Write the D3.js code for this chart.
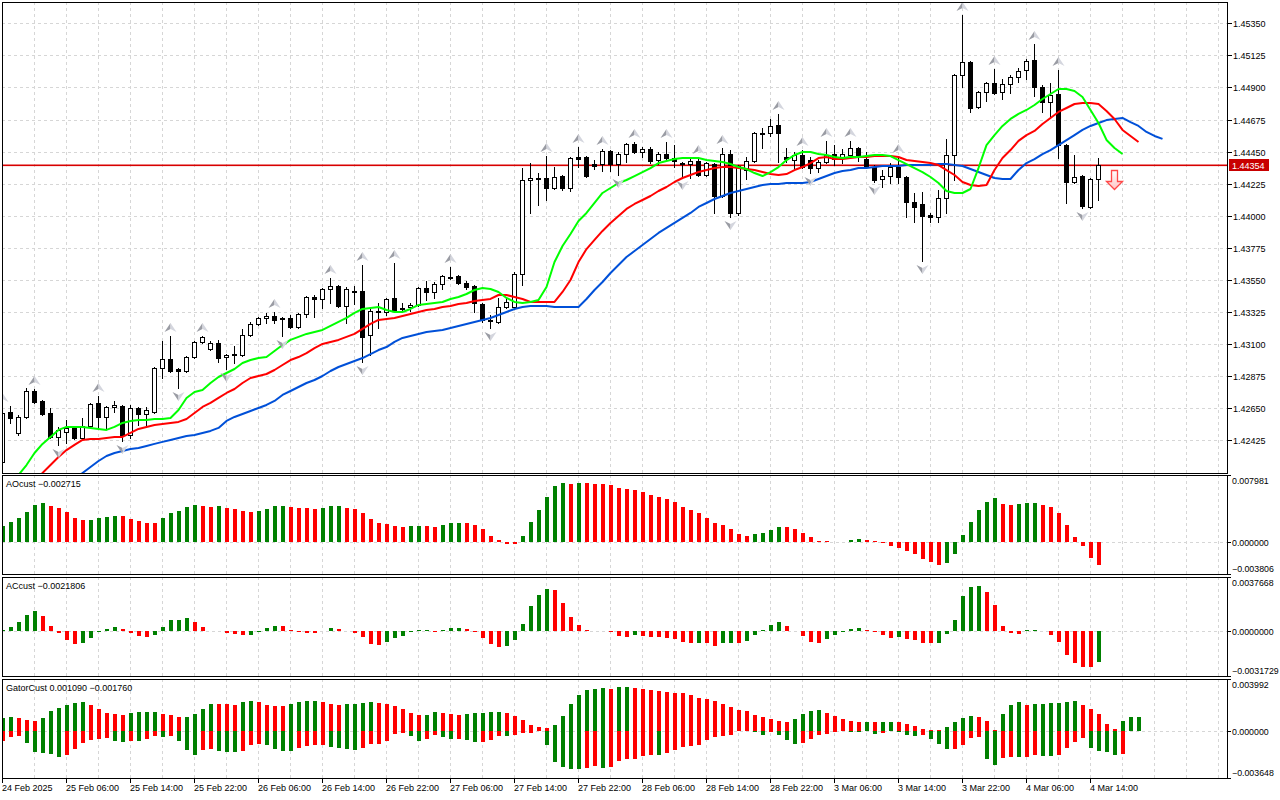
<!DOCTYPE html>
<html><head><meta charset="utf-8">
<script src="https://cdn.jsdelivr.net/npm/d3@7"></script>
<style>
body{margin:0;background:#fff}
svg{display:block}
text{font-family:"Liberation Sans",Arial,sans-serif;font-size:9px;fill:#000}
</style>
</head><body>
<svg id="c" width="1280" height="800"></svg>
<script>
// ---------- DATA ----------
const timeLabels = ["24 Feb 2025","25 Feb 06:00","25 Feb 14:00","25 Feb 22:00","26 Feb 06:00","26 Feb 14:00","26 Feb 22:00","27 Feb 06:00","27 Feb 14:00","27 Feb 22:00","28 Feb 06:00","28 Feb 14:00","28 Feb 22:00","3 Mar 06:00","3 Mar 14:00","3 Mar 22:00","4 Mar 06:00","4 Mar 14:00"];
const timeLabelBars = [0,8,16,24,32,40,48,56,64,72,80,88,96,104,112,120,128,136];
const priceTicks = [1.42425,1.42650,1.42875,1.43100,1.43325,1.43550,1.43775,1.44000,1.44225,1.44450,1.44675,1.44900,1.45125,1.45350];
const lastPrice = 1.44354;

const open = [1.42274,1.42625,1.42478,1.42590,1.42772,1.42702,1.42618,1.42450,1.42485,1.42513,
1.42443,1.42527,1.42688,1.42590,1.42660,1.42667,1.42464,1.42653,1.42611,1.42625,
1.42933,1.42996,1.42926,1.42912,1.43010,1.43116,1.43066,1.43109,1.43010,1.43024,
1.43024,1.43165,1.43242,1.43284,1.43298,1.43284,1.43284,1.43221,1.43312,1.43431,
1.43417,1.43487,1.43508,1.43368,1.43473,1.43473,1.43165,1.43326,1.43326,1.43424,
1.43354,1.43361,1.43375,1.43494,1.43466,1.43522,1.43564,1.43578,1.43529,1.43508,
1.43382,1.43270,1.43256,1.43361,1.43361,1.43592,1.44251,1.44258,1.44265,1.44195,
1.44279,1.44195,1.44412,1.44412,1.44363,1.44363,1.44454,1.44363,1.44433,1.44504,
1.44447,1.44468,1.44391,1.44433,1.44405,1.44370,1.44363,1.44384,1.44286,1.44363,
1.44139,1.44433,1.44020,1.44321,1.44384,1.44574,1.44581,1.44637,1.44412,1.44391,
1.44426,1.44391,1.44335,1.44377,1.44433,1.44412,1.44426,1.44475,1.44398,1.44342,
1.44258,1.44279,1.44342,1.44272,1.44097,1.44083,1.44006,1.43992,1.44125,1.44426,
1.44987,1.45078,1.44763,1.44868,1.44931,1.44868,1.44924,1.44973,1.45022,1.45092,
1.44903,1.44798,1.44854,1.44496,1.44237,1.44279,1.44062,1.44258];
const high = [1.42667,1.42667,1.42604,1.42793,1.42786,1.42709,1.42653,1.42520,1.42569,1.42520,
1.42583,1.42688,1.42737,1.42667,1.42702,1.42674,1.42674,1.42660,1.42660,1.42940,
1.43123,1.43158,1.42933,1.43017,1.43123,1.43158,1.43123,1.43130,1.43031,1.43087,
1.43207,1.43256,1.43291,1.43319,1.43326,1.43291,1.43305,1.43319,1.43438,1.43445,
1.43494,1.43564,1.43515,1.43501,1.43508,1.43655,1.43347,1.43389,1.43424,1.43669,
1.43389,1.43389,1.43501,1.43543,1.43536,1.43585,1.43641,1.43585,1.43543,1.43515,
1.43389,1.43305,1.43424,1.43424,1.43606,1.44335,1.44370,1.44300,1.44419,1.44342,
1.44286,1.44412,1.44482,1.44419,1.44391,1.44468,1.44461,1.44447,1.44511,1.44518,
1.44482,1.44482,1.44447,1.44518,1.44496,1.44377,1.44405,1.44405,1.44377,1.44370,
1.44475,1.44461,1.44356,1.44412,1.44588,1.44616,1.44679,1.44714,1.44475,1.44447,
1.44461,1.44412,1.44391,1.44525,1.44496,1.44468,1.44525,1.44482,1.44447,1.44356,
1.44321,1.44370,1.44412,1.44279,1.44160,1.44167,1.44020,1.44181,1.44539,1.44994,
1.45408,1.45085,1.44875,1.44938,1.45029,1.44959,1.44987,1.45036,1.45099,1.45205,
1.44917,1.44931,1.45022,1.44504,1.44426,1.44286,1.44265,1.44405];
const low = [1.42253,1.42548,1.42464,1.42583,1.42688,1.42604,1.42443,1.42394,1.42408,1.42436,
1.42436,1.42520,1.42520,1.42513,1.42625,1.42422,1.42443,1.42534,1.42520,1.42618,
1.42863,1.42905,1.42793,1.42905,1.43003,1.43109,1.43059,1.42975,1.42926,1.42968,
1.43017,1.43158,1.43235,1.43249,1.43249,1.43158,1.43214,1.43214,1.43291,1.43291,
1.43354,1.43389,1.43361,1.43249,1.43382,1.42975,1.43024,1.43214,1.43305,1.43326,
1.43326,1.43333,1.43368,1.43410,1.43424,1.43487,1.43557,1.43522,1.43487,1.43326,
1.43256,1.43214,1.43249,1.43354,1.43354,1.43515,1.44020,1.44076,1.44111,1.44188,
1.44181,1.44174,1.44342,1.44272,1.44328,1.44314,1.44314,1.44286,1.44377,1.44440,
1.44412,1.44370,1.44363,1.44398,1.44342,1.44272,1.44265,1.44279,1.44279,1.44020,
1.44132,1.43992,1.44006,1.44258,1.44377,1.44475,1.44560,1.44377,1.44377,1.44321,
1.44335,1.44300,1.44307,1.44370,1.44356,1.44370,1.44419,1.44384,1.44335,1.44237,
1.44202,1.44230,1.44230,1.43992,1.43957,1.43683,1.43957,1.43957,1.44020,1.44251,
1.44903,1.44728,1.44756,1.44805,1.44854,1.44819,1.44861,1.44938,1.44959,1.44840,
1.44728,1.44693,1.44405,1.44090,1.44230,1.44055,1.44055,1.44111];
const close = [1.42618,1.42583,1.42590,1.42772,1.42695,1.42611,1.42450,1.42499,1.42513,1.42443,
1.42527,1.42681,1.42590,1.42660,1.42674,1.42464,1.42653,1.42611,1.42639,1.42933,
1.42996,1.42912,1.42912,1.43010,1.43116,1.43151,1.43109,1.43003,1.43024,1.43031,
1.43165,1.43242,1.43284,1.43298,1.43270,1.43277,1.43221,1.43312,1.43431,1.43417,
1.43487,1.43508,1.43368,1.43487,1.43466,1.43151,1.43333,1.43333,1.43417,1.43333,
1.43347,1.43375,1.43494,1.43466,1.43522,1.43578,1.43571,1.43529,1.43501,1.43389,
1.43270,1.43263,1.43361,1.43396,1.43592,1.44251,1.44265,1.44265,1.44195,1.44272,
1.44195,1.44405,1.44398,1.44279,1.44349,1.44454,1.44363,1.44433,1.44504,1.44447,
1.44468,1.44384,1.44433,1.44405,1.44384,1.44363,1.44384,1.44286,1.44370,1.44139,
1.44433,1.44020,1.44349,1.44384,1.44581,1.44581,1.44630,1.44581,1.44398,1.44426,
1.44342,1.44335,1.44377,1.44426,1.44398,1.44433,1.44475,1.44412,1.44342,1.44251,
1.44279,1.44342,1.44272,1.44097,1.44062,1.43999,1.43992,1.44125,1.44426,1.44987,
1.45078,1.44756,1.44868,1.44931,1.44861,1.44924,1.44973,1.45015,1.45085,1.44903,
1.44798,1.44847,1.44496,1.44237,1.44272,1.44069,1.44258,1.44354];

const upFractals = [0,4,12,21,25,34,41,45,49,56,68,72,75,79,83,87,90,97,100,103,106,112,120,124,129,132];
const downFractals = [7,15,22,28,35,45,61,77,85,91,101,109,115,135];
const sellSignalBar = 139, sellSignalPrice = 1.44321;

// Alligator (already shifted forward)
const lipsStart = 2;
const lips = [1.42183,1.42253,1.42337,1.42401,1.42450,1.42499,1.42520,1.42520,1.42520,1.42513,
1.42506,1.42499,1.42520,1.42548,1.42562,1.42569,1.42569,1.42576,1.42576,1.42583,
1.42639,1.42723,1.42765,1.42779,1.42828,1.42870,1.42898,1.42926,1.42968,1.42989,
1.43003,1.43010,1.43052,1.43094,1.43130,1.43151,1.43172,1.43186,1.43200,1.43228,
1.43256,1.43284,1.43319,1.43347,1.43354,1.43361,1.43340,1.43326,1.43326,1.43347,
1.43375,1.43382,1.43389,1.43396,1.43417,1.43431,1.43452,1.43480,1.43494,1.43487,
1.43466,1.43424,1.43396,1.43389,1.43396,1.43410,1.43501,1.43676,1.43788,1.43873,
1.43964,1.44020,1.44090,1.44160,1.44195,1.44230,1.44251,1.44279,1.44307,1.44335,
1.44370,1.44384,1.44398,1.44405,1.44405,1.44405,1.44391,1.44384,1.44377,1.44363,
1.44342,1.44328,1.44300,1.44279,1.44307,1.44342,1.44391,1.44426,1.44447,1.44447,
1.44433,1.44426,1.44412,1.44405,1.44412,1.44412,1.44419,1.44426,1.44426,1.44419,
1.44391,1.44363,1.44335,1.44307,1.44272,1.44230,1.44174,1.44160,1.44160,1.44188,
1.44335,1.44496,1.44566,1.44630,1.44679,1.44714,1.44742,1.44777,1.44819,1.44854,
1.44889,1.44889,1.44875,1.44833,1.44742,1.44651,1.44532,1.44475,1.44433];
const teethStart = 4;
const teeth = [1.42148,1.42197,1.42253,1.42309,1.42358,1.42394,1.42429,1.42436,1.42436,1.42443,
1.42450,1.42450,1.42478,1.42506,1.42520,1.42534,1.42541,1.42548,1.42555,1.42576,
1.42618,1.42660,1.42688,1.42723,1.42758,1.42786,1.42828,1.42863,1.42877,1.42891,
1.42919,1.42954,1.42989,1.43010,1.43038,1.43073,1.43102,1.43116,1.43130,1.43151,
1.43172,1.43207,1.43242,1.43270,1.43277,1.43284,1.43298,1.43312,1.43326,1.43340,
1.43347,1.43361,1.43368,1.43382,1.43389,1.43403,1.43410,1.43417,1.43445,1.43445,
1.43431,1.43417,1.43396,1.43396,1.43396,1.43396,1.43466,1.43550,1.43676,1.43767,
1.43831,1.43894,1.43950,1.43999,1.44048,1.44083,1.44111,1.44139,1.44174,1.44202,
1.44237,1.44265,1.44286,1.44307,1.44321,1.44335,1.44342,1.44342,1.44335,1.44328,
1.44321,1.44307,1.44293,1.44286,1.44293,1.44321,1.44342,1.44370,1.44405,1.44412,
1.44398,1.44398,1.44405,1.44412,1.44412,1.44419,1.44419,1.44419,1.44412,1.44391,
1.44384,1.44377,1.44370,1.44356,1.44321,1.44286,1.44237,1.44216,1.44209,1.44216,
1.44321,1.44405,1.44461,1.44525,1.44566,1.44595,1.44644,1.44686,1.44728,1.44756,
1.44784,1.44791,1.44791,1.44784,1.44735,1.44679,1.44602,1.44560,1.44518];
const jawStart = 9;
const jaw = [1.42162,1.42197,1.42239,1.42281,1.42316,1.42337,1.42351,1.42365,1.42372,1.42386,
1.42401,1.42415,1.42429,1.42443,1.42457,1.42464,1.42478,1.42492,1.42513,1.42562,
1.42590,1.42611,1.42632,1.42653,1.42674,1.42702,1.42744,1.42772,1.42800,1.42828,
1.42849,1.42877,1.42912,1.42940,1.42961,1.42982,1.43003,1.43031,1.43059,1.43080,
1.43116,1.43144,1.43158,1.43172,1.43186,1.43193,1.43200,1.43214,1.43228,1.43242,
1.43256,1.43270,1.43284,1.43305,1.43326,1.43347,1.43361,1.43368,1.43368,1.43368,
1.43361,1.43361,1.43361,1.43361,1.43417,1.43480,1.43536,1.43599,1.43655,1.43711,
1.43753,1.43795,1.43838,1.43880,1.43915,1.43950,1.43985,1.44020,1.44062,1.44090,
1.44118,1.44139,1.44160,1.44174,1.44188,1.44202,1.44216,1.44223,1.44223,1.44230,
1.44230,1.44230,1.44237,1.44258,1.44279,1.44300,1.44314,1.44321,1.44335,1.44335,
1.44342,1.44349,1.44349,1.44349,1.44356,1.44356,1.44356,1.44356,1.44363,1.44363,
1.44356,1.44349,1.44328,1.44307,1.44286,1.44265,1.44258,1.44258,1.44321,1.44370,
1.44398,1.44433,1.44461,1.44496,1.44531,1.44566,1.44602,1.44630,1.44651,1.44671,
1.44679,1.44686,1.44657,1.44630,1.44588,1.44560,1.44539];

// Awesome Oscillator
const ao = [0.001906,0.002382,0.002823,0.003573,0.004407,0.004609,0.004288,0.004014,0.003573,0.002858,
0.002584,0.002620,0.002823,0.002978,0.003097,0.003061,0.002704,0.002465,0.002299,0.002263,
0.002858,0.003454,0.003692,0.004133,0.004407,0.004288,0.004169,0.004288,0.004014,0.003895,
0.003692,0.003573,0.003692,0.003930,0.004252,0.004288,0.004133,0.004049,0.004014,0.003930,
0.004049,0.004288,0.004323,0.004049,0.003930,0.003454,0.002739,0.002263,0.002144,0.001906,
0.001787,0.001906,0.001941,0.001906,0.001787,0.002025,0.002263,0.002299,0.002263,0.002025,
0.001548,0.000715,0.000238,-0.000179,-0.000214,0.000715,0.002382,0.003811,0.005360,0.006670,
0.007027,0.006908,0.007063,0.007027,0.006908,0.006872,0.006789,0.006431,0.006312,0.006193,
0.005955,0.005598,0.005360,0.005121,0.004764,0.004169,0.003811,0.003454,0.002858,0.002263,
0.002025,0.001548,0.000953,0.000715,0.000953,0.001072,0.001429,0.001787,0.001751,0.001548,
0.001072,0.000596,0.000119,0.000095,0.000036,0.000060,0.000238,0.000357,0.000238,0.000119,
-0.000036,-0.000476,-0.000715,-0.001072,-0.001429,-0.002025,-0.002382,-0.002739,-0.002501,-0.001429,
0.000834,0.002382,0.003811,0.004764,0.005240,0.004526,0.004407,0.004526,0.004645,0.004681,
0.004407,0.004169,0.003454,0.002025,0.000596,-0.000476,-0.001906,-0.002715];
const aoScale = [-0.003806, 0.007981];

// Accelerator Oscillator
const ac = [0.0000694,0.0002776,0.0006246,0.0011104,0.001388,0.001041,0.000347,-0.0001596,-0.0006732,-0.0009508,
-0.0008814,-0.0005344,-0.0000694,0.0001388,0.0002776,0.0001388,-0.0001874,-0.0003956,-0.000465,-0.0003262,
0.0002776,0.0007634,0.0007773,0.0009022,0.0006246,0.0002776,-0.0000486,-0.0000347,-0.0001874,-0.0002568,
-0.0003262,-0.0003123,-0.000118,0.0002082,0.000347,0.0003331,0.0000694,-0.000118,-0.0001249,-0.0001319,
-0.0000347,0.0001874,0.000118,0.0000139,-0.0001874,-0.000465,-0.0009508,-0.0010202,-0.000812,-0.0005344,
-0.0003956,-0.000118,0.0000208,0.0000347,-0.000118,0.0000694,0.0002082,0.0002221,0.000118,-0.000118,
-0.0005344,-0.0009508,-0.001159,-0.0010896,-0.0006732,0.0004858,0.001735,0.0024984,0.0029148,0.0028454,
0.0019432,0.0009716,0.0004164,0.0000208,0.0000069,0.0000139,-0.000118,-0.0003956,-0.0004095,-0.0003262,
-0.0003956,-0.000465,-0.0004719,-0.0004789,-0.0006038,-0.000812,-0.0008814,-0.0008675,-0.0008883,-0.0010896,
-0.0008814,-0.0008675,-0.0008814,-0.0007426,-0.0003262,0.0000208,0.0004164,0.0006246,0.000347,0,
-0.0003956,-0.000812,-0.0008814,-0.0006038,-0.0003262,-0.0000902,0.0001388,0.0001874,0.0000694,-0.0000902,
-0.0003262,-0.0005344,-0.000465,-0.0006038,-0.0006732,-0.0008814,-0.0008883,-0.0008744,-0.0002568,0.0007634,
0.002429,0.0030536,0.003123,0.0027066,0.0018044,0.000347,-0.0001874,-0.0001943,0.0000208,0.0000347,
-0.0000208,-0.0003262,-0.000812,-0.0017142,-0.0022694,-0.002547,-0.0025539,-0.0021806];
const acScale = [-0.0031729, 0.0037668];

// Gator oscillator
const gatorUp = [0.000950,0.001027,0.000950,0.000849,0.000749,0.000980,0.001521,0.001752,0.001984,0.002138,
0.002216,0.001984,0.001675,0.001366,0.001289,0.001212,0.001390,0.001444,0.001451,0.001459,
0.001289,0.001212,0.001058,0.001065,0.001289,0.001675,0.002061,0.002054,0.002046,0.002007,
0.002216,0.002293,0.002216,0.001984,0.001907,0.001899,0.002061,0.002216,0.002293,0.002301,
0.002216,0.002030,0.001953,0.002030,0.002038,0.002108,0.002185,0.002177,0.002030,0.001876,
0.001644,0.001336,0.001181,0.001189,0.001413,0.001336,0.001258,0.001181,0.001258,0.001336,
0.001343,0.001413,0.001420,0.001336,0.001104,0.000795,0.000409,0.000255,0.000247,0.000409,
0.001104,0.002030,0.002725,0.003111,0.003188,0.003266,0.003188,0.003343,0.003350,0.003335,
0.003188,0.003111,0.003034,0.002957,0.002949,0.002880,0.002725,0.002494,0.002416,0.002262,
0.002069,0.001799,0.001567,0.001490,0.001181,0.001027,0.000872,0.000718,0.000710,0.000872,
0.001258,0.001490,0.001567,0.001336,0.001104,0.000872,0.000718,0.000641,0.000648,0.000641,
0.000648,0.000656,0.000641,0.000486,0.000332,0.000100,0.000039,0.000023,0.000255,0.000641,
0.000950,0.001104,0.001096,0.000718,0.000023,0.001258,0.001953,0.002185,0.001953,0.002030,
0.002038,0.002108,0.002115,0.002185,0.002262,0.001953,0.001644,0.001258,0.000486,0.000100,
0.000718,0.001027,0.001090];
const gatorDown = [-0.000772,-0.000463,-0.000386,-0.000926,-0.001621,-0.001698,-0.001776,-0.002007,-0.001853,-0.001390,
-0.000926,-0.000695,-0.000618,-0.000540,-0.000772,-0.000849,-0.000772,-0.000780,-0.000618,-0.000386,
-0.000463,-0.000386,-0.000772,-0.001467,-0.001853,-0.001467,-0.001390,-0.001544,-0.001621,-0.001629,
-0.001544,-0.001081,-0.001027,-0.001081,-0.001390,-0.001544,-0.001552,-0.001312,-0.001158,-0.001081,
-0.001073,-0.001289,-0.001366,-0.001374,-0.001521,-0.001366,-0.001058,-0.001050,-0.000826,-0.000286,
-0.000208,-0.000440,-0.000826,-0.000672,-0.000363,-0.000517,-0.000672,-0.000664,-0.000749,-0.000903,
-0.000896,-0.000749,-0.000425,-0.000440,-0.000363,-0.000208,-0.000154,-0.000039,-0.001104,-0.002416,
-0.002802,-0.002957,-0.002964,-0.002880,-0.002725,-0.002880,-0.002802,-0.002339,-0.002185,-0.002177,
-0.001953,-0.001876,-0.001884,-0.001722,-0.001490,-0.001258,-0.001181,-0.001104,-0.000718,-0.000486,
-0.000409,-0.000332,-0.000054,-0.000039,-0.000131,-0.000332,-0.000093,-0.000332,-0.000718,-0.001027,
-0.000950,-0.000641,-0.000332,-0.000255,-0.000100,-0.000054,-0.000100,-0.000108,-0.000023,-0.000255,
-0.000178,-0.000023,-0.000100,-0.000332,-0.000409,-0.000332,-0.000641,-0.001027,-0.001413,-0.001405,
-0.001104,-0.000564,-0.000486,-0.002185,-0.002648,-0.002108,-0.002030,-0.002054,-0.002030,-0.001876,
-0.001953,-0.001961,-0.001876,-0.001336,-0.000872,-0.000564,-0.001336,-0.001544,-0.001644,-0.001876,
-0.001760];
const gatorScale = [-0.003648, 0.003992];

// ---------- DRAW ----------
const svg = d3.select("#c");
const L = 2, R = 1228;
const x = d3.scaleLinear().domain([0, 153.25]).range([L, R]);
const P = {
  main:  {top: 2,   bottom: 473},
  ao:    {top: 475, bottom: 574},
  ac:    {top: 577, bottom: 676},
  gator: {top: 679, bottom: 778}
};
const yMain = d3.scaleLinear().domain([1.42197, 1.45499]).range([P.main.bottom, P.main.top]);
const yAo = d3.scaleLinear().domain(aoScale).range([P.ao.bottom, P.ao.top]);
const yAc = d3.scaleLinear().domain(acScale).range([P.ac.bottom, P.ac.top]);
const yGa = d3.scaleLinear().domain(gatorScale).range([P.gator.bottom, P.gator.top]);

const GRID = "#d6d6d6", GREEN = "#008000", RED = "#ff0000";
const defs = svg.append("defs");
Object.entries(P).forEach(([k, p]) => {
  defs.append("clipPath").attr("id", "clip-" + k).append("rect")
    .attr("x", L + 1).attr("y", p.top + 1).attr("width", R - L - 1).attr("height", p.bottom - p.top - 1);
});
const grad = defs.append("linearGradient").attr("id", "sigfill").attr("x1", 0).attr("y1", 0).attr("x2", 0).attr("y2", 1);
grad.append("stop").attr("offset", "0%").attr("stop-color", "#ffffff");
grad.append("stop").attr("offset", "100%").attr("stop-color", "#ffc4c4");

// grid
const gridXs = d3.range(1, 39).map(k => L + 32 * k);
Object.entries(P).forEach(([k, p]) => {
  const g = svg.append("g").attr("clip-path", `url(#clip-${k})`);
  g.selectAll("line").data(gridXs).join("line")
    .attr("x1", d => d + 0.5).attr("x2", d => d + 0.5)
    .attr("y1", p.top).attr("y2", p.bottom)
    .attr("stroke", GRID).attr("stroke-dasharray", "3,3");
});
svg.append("g").selectAll("line").data(priceTicks).join("line")
  .attr("x1", L).attr("x2", R)
  .attr("y1", d => Math.round(yMain(d)) + 0.5).attr("y2", d => Math.round(yMain(d)) + 0.5)
  .attr("stroke", GRID).attr("stroke-dasharray", "3,3");
[yAo, yAc, yGa].forEach(ys => {
  const yy = Math.round(ys(0)) + 0.5;
  svg.append("line").attr("x1", L).attr("x2", R).attr("y1", yy).attr("y2", yy)
    .attr("stroke", GRID).attr("stroke-dasharray", "3,3");
});

// main panel content
const gm = svg.append("g").attr("clip-path", "url(#clip-main)");
const yLastPx = Math.round(yMain(lastPrice));
const yLast = yLastPx + 0.5;
gm.append("rect").attr("x", L).attr("width", R - L).attr("y", yLastPx - 0.5).attr("height", 1.6)
  .attr("fill", "#d80000");

const bars = open.map((o, i) => ({i, o, h: high[i], l: low[i], c: close[i]}));
const cg = gm.append("g").attr("shape-rendering", "crispEdges");
cg.selectAll("line.wick").data(bars).join("line").attr("class", "wick")
  .attr("x1", d => x(d.i) + 0.5).attr("x2", d => x(d.i) + 0.5)
  .attr("y1", d => Math.round(yMain(d.h))).attr("y2", d => Math.round(yMain(d.l)) + 1)
  .attr("stroke", "#000");
bars.forEach(d => {
  const y1 = Math.round(yMain(Math.max(d.o, d.c)));
  const y2 = Math.round(yMain(Math.min(d.o, d.c)));
  const bull = d.c >= d.o;
  if (y2 - y1 < 1) {
    cg.append("line").attr("x1", x(d.i) - 2).attr("x2", x(d.i) + 3)
      .attr("y1", y1 + 0.5).attr("y2", y1 + 0.5).attr("stroke", "#000");
  } else {
    cg.append("rect").attr("x", x(d.i) - 1.5).attr("y", y1 + 0.5)
      .attr("width", 4).attr("height", y2 - y1)
      .attr("fill", bull ? "#fff" : "#000").attr("stroke", "#000");
  }
});

// alligator
function drawLine(data, start, color) {
  gm.append("path").datum(data)
    .attr("d", d3.line().x((d, i) => x(start + i) + 0.5).y(d => yMain(d)))
    .attr("fill", "none").attr("stroke", color).attr("stroke-width", 2)
    .attr("stroke-linejoin", "round");
}
drawLine(jaw, jawStart, "#0050d8");
drawLine(teeth, teethStart, "#ff0000");
drawLine(lips, lipsStart, "#00ff00");

// fractals
function arrow(g, cx, cy, up) {
  const s = up ? 1 : -1;
  g.append("path").attr("d", `M${cx},${cy - 5 * s} L${cx - 6},${cy + 4 * s} L${cx},${cy + 1 * s} Z`).attr("fill", "#9a9ca4");
  g.append("path").attr("d", `M${cx},${cy - 5 * s} L${cx + 6},${cy + 4 * s} L${cx},${cy + 1 * s} Z`).attr("fill", "#d4d6de");
}
const fg = gm.append("g");
upFractals.forEach(i => arrow(fg, x(i) + 0.5, yMain(high[i]) - 8, true));
downFractals.forEach(i => arrow(fg, x(i) + 0.5, yMain(low[i]) + 8, false));

// sell signal arrow
{
  const cx = x(sellSignalBar) + 0.5, t = Math.round(yMain(sellSignalPrice)) + 0.5;
  gm.append("path")
    .attr("d", `M${cx - 3},${t} L${cx + 3},${t} L${cx + 3},${t + 11} L${cx + 8},${t + 11} L${cx},${t + 19} L${cx - 8},${t + 11} L${cx - 3},${t + 11} Z`)
    .attr("fill", "url(#sigfill)").attr("stroke", "#ff4848").attr("stroke-width", 1.3)
    .attr("stroke-linejoin", "miter");
}

// histograms
function rising(arr, i, useAbs) {
  const f = useAbs ? Math.abs : (v => v);
  if (i === 0) return f(arr[1]) > f(arr[0]);
  return f(arr[i]) > f(arr[i - 1]);
}
function hist(key, data, ys, useAbs) {
  const g = svg.append("g").attr("clip-path", `url(#clip-${key})`).attr("shape-rendering", "crispEdges");
  const z = ys(0);
  g.selectAll("rect").data(data).join("rect")
    .attr("x", (d, i) => x(i) - 1.5).attr("width", 4)
    .attr("y", d => Math.min(ys(d), z)).attr("height", d => Math.max(Math.abs(ys(d) - z), 0.6))
    .attr("fill", (d, i) => rising(data, i, useAbs) ? GREEN : RED);
  return g;
}
hist("ao", ao, yAo, false);
hist("ac", ac, yAc, false);
hist("gator", gatorUp, yGa, true);
hist("gator", gatorDown, yGa, true);

// frames
Object.values(P).forEach(p => {
  svg.append("rect").attr("x", L + 0.5).attr("y", p.top + 0.5)
    .attr("width", R - L - 1).attr("height", p.bottom - p.top)
    .attr("fill", "none").attr("stroke", "#000");
});

// right price axis
const ax = svg.append("g");
const LX = R + 4;
priceTicks.forEach(v => {
  const yy = Math.round(yMain(v)) + 0.5;
  ax.append("line").attr("x1", R).attr("x2", R + 4).attr("y1", yy).attr("y2", yy).attr("stroke", "#000");
  ax.append("text").attr("x", LX + 1).attr("y", yy).attr("dy", "0.35em").text(d3.format(".5f")(v));
});
ax.append("rect").attr("x", R + 1).attr("y", yLast - 6.5).attr("width", 40).attr("height", 12).attr("fill", "#c80000");
ax.append("text").attr("x", R + 4).attr("y", yLast).attr("dy", "0.35em").style("fill", "#fff").text(d3.format(".5f")(lastPrice));

// sub-panel axes
function subAxis(p, scale, fmt) {
  const [mn, mx] = scale;
  const zs = d3.scaleLinear().domain(scale).range([p.bottom, p.top]);
  [[p.top + 0.5, mx, p.top + 6], [Math.round(zs(0)) + 0.5, 0, null], [p.bottom + 0.5, mn, p.bottom - 5]]
    .forEach(([ty, v, ly]) => {
      ax.append("line").attr("x1", R).attr("x2", R + 3).attr("y1", ty).attr("y2", ty).attr("stroke", "#000");
      ax.append("text").attr("x", LX).attr("y", ly === null ? ty : ly).attr("dy", "0.35em")
        .style("font-size", "8.8px").text(d3.format(fmt)(v));
    });
}
subAxis(P.ao, aoScale, ".6f");
subAxis(P.ac, acScale, ".7f");
subAxis(P.gator, gatorScale, ".6f");

// sub-panel titles
svg.append("text").attr("x", 6).attr("y", P.ao.top + 9).attr("dy", "0.35em").text("AOcust " + d3.format(".6f")(ao[ao.length - 1]));
svg.append("text").attr("x", 6).attr("y", P.ac.top + 9).attr("dy", "0.35em").text("ACcust " + d3.format(".7f")(ac[ac.length - 1]));
svg.append("text").attr("x", 6).attr("y", P.gator.top + 9).attr("dy", "0.35em")
  .text("GatorCust " + d3.format(".6f")(gatorUp[gatorUp.length - 1]) + " " + d3.format(".6f")(gatorDown[gatorDown.length - 1]));

// time axis
const tg = svg.append("g");
timeLabelBars.forEach((b, k) => {
  const xx = x(b);
  tg.append("line").attr("x1", xx + 0.5).attr("x2", xx + 0.5).attr("y1", P.gator.bottom + 1).attr("y2", P.gator.bottom + 5).attr("stroke", "#000");
  tg.append("text").attr("x", xx).attr("y", 788).attr("dy", "0.35em").text(timeLabels[k]);
});
</script>
</body></html>
